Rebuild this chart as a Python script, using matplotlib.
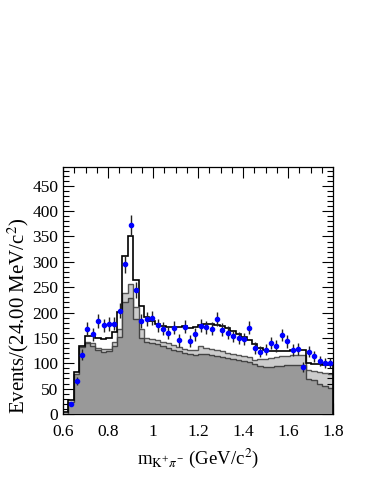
import numpy as np
import matplotlib
matplotlib.use("Agg")
import matplotlib.pyplot as plt
from matplotlib.ticker import MultipleLocator

plt.rcParams['font.family'] = ['Liberation Serif', 'DejaVu Serif']
plt.rcParams['mathtext.fontset'] = 'stix'

# ---- data (50 bins of 24 MeV from 0.6 to 1.8 GeV) ----
x_min, x_max, n_bins = 0.6, 1.8, 50

data_counts = [0, 20, 65, 117, 168, 157, 183, 175, 177, 178,
               204, 296, 373, 244, 184, 188, 190, 175, 168, 160,
               170, 145, 172, 144, 157, 174, 171, 168, 187, 166,
               160, 154, 150, 148, 170, 130, 123, 127, 140, 134,
               156, 143, 126, 128, 93, 123, 114, 104, 100, 100]

total_fit = [4, 27, 82, 135, 154, 153, 149, 148, 150, 161,
             202, 312, 351, 265, 212, 192, 184, 178, 174, 172,
             172, 172, 174, 170, 171, 175, 177, 178, 176, 173,
             170, 163, 158, 152, 146, 138, 131, 126, 125, 124,
             124, 125, 126, 127, 127, 100, 99, 98, 97, 97]

bkg_total = [0, 24, 78, 132, 141, 139, 130, 128, 129, 141,
             168, 239, 257, 211, 168, 150, 147, 145, 142, 140,
             136, 132, 128, 126, 127, 135, 130, 128, 127, 124,
             121, 119, 117, 115, 112, 106, 108, 109, 110, 112,
             114, 115, 116, 116, 116, 86, 84, 82, 80, 78]

bkg_main = [0, 24, 78, 132, 139, 135, 126, 122, 124, 135,
            152, 221, 228, 187, 150, 142, 140, 137, 134, 131,
            127, 124, 121, 119, 116, 118, 119, 117, 115, 113,
            111, 109, 107, 105, 102, 98, 95, 93, 93, 94,
            95, 96, 97, 97, 97, 68, 66, 60, 56, 52]

x_label = r'm$_{\mathrm{K}^{+}\pi^{-}}$ (GeV/c$^{2}$)'
y_label = r'Events/(24.00 MeV/c$^{2}$)'

edges = np.linspace(x_min, x_max, n_bins + 1)
centers = 0.5 * (edges[:-1] + edges[1:])
data = np.array(data_counts, dtype=float)

fig = plt.figure(figsize=(3.82, 4.94), dpi=100)
ax = fig.add_axes([0.165, 0.162, 0.707, 0.50])

ax.stairs(bkg_total, edges, baseline=0, fill=True, color='#cccccc', zorder=1)
ax.stairs(bkg_total, edges, baseline=0, color='#555555', lw=1.0, zorder=2)
ax.stairs(bkg_main, edges, baseline=0, fill=True, color='#999999', zorder=3)
ax.stairs(bkg_main, edges, baseline=0, color='#444444', lw=1.0, zorder=4)
ax.stairs(total_fit, edges, baseline=0, color='black', lw=1.2, zorder=5)

mask = data > 0
ax.errorbar(centers[mask], data[mask], yerr=np.sqrt(data[mask]), fmt='o',
            ms=3.0, mfc='#0000ff', mec='#0000ff', ecolor='#222222',
            elinewidth=1.0, capsize=0, zorder=6)

ax.set_xlim(x_min, x_max)
ax.set_ylim(0, 487)
ax.xaxis.set_major_locator(MultipleLocator(0.2))
ax.xaxis.set_minor_locator(MultipleLocator(0.05))
ax.yaxis.set_major_locator(MultipleLocator(50))
ax.yaxis.set_minor_locator(MultipleLocator(10))
ax.set_xticks([0.6, 0.8, 1.0, 1.2, 1.4, 1.6, 1.8])
ax.set_xticklabels(['0.6', '0.8', '1', '1.2', '1.4', '1.6', '1.8'])
ax.tick_params(which='both', direction='in', top=True, right=True,
               labelsize=12.5, width=0.8, colors='black')
ax.tick_params(which='major', length=8)
ax.tick_params(which='minor', length=4)
ax.tick_params(axis='x', pad=7)
for s in ax.spines.values():
    s.set_linewidth(0.9)

ax.set_xlabel(x_label, fontsize=13.5, labelpad=5)
ax.set_ylabel(y_label, fontsize=15, labelpad=1, loc='bottom')

fig.savefig('out.png', dpi=100)
